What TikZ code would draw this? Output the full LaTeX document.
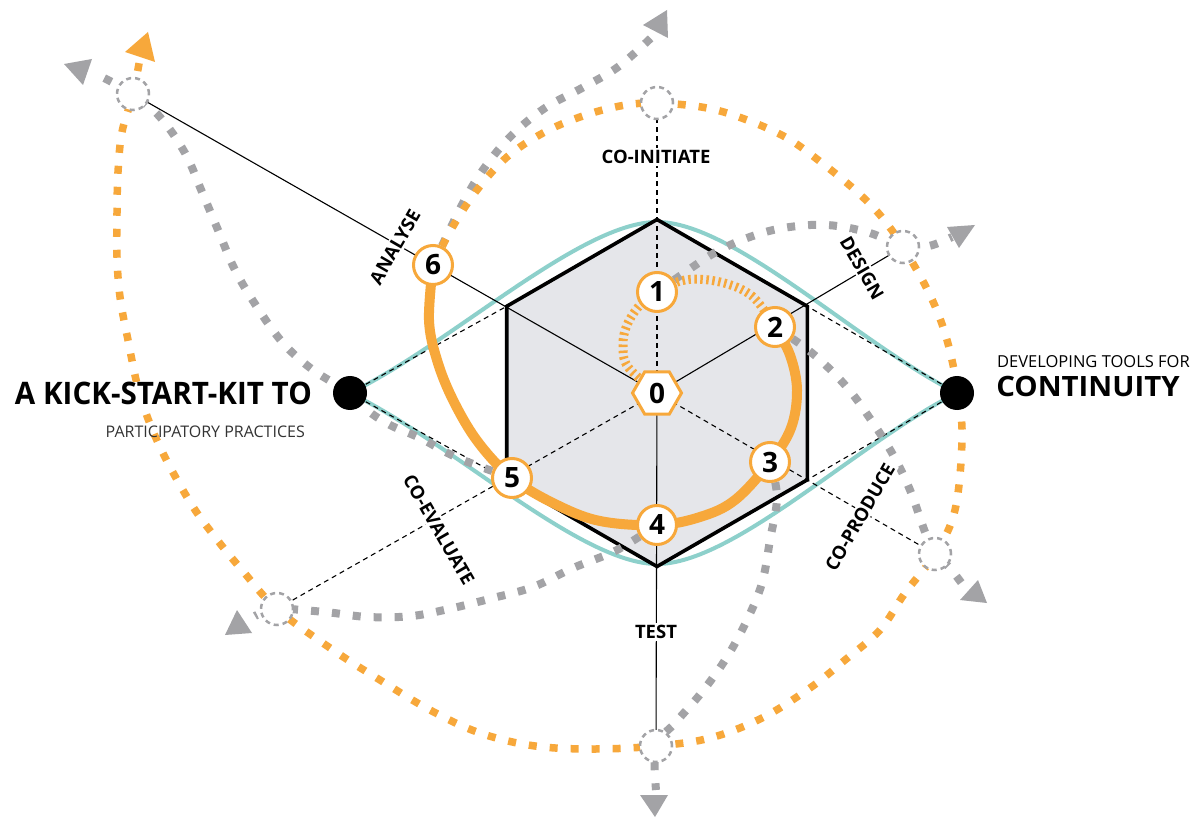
\documentclass[tikz,border=0pt]{standalone}
\usepackage{fontspec}
\setmainfont{Open Sans}
\usetikzlibrary{shapes.geometric}
\definecolor{kitorange}{HTML}{F7A83B}
\definecolor{kitgray}{HTML}{A3A3A6}
\definecolor{kitteal}{HTML}{8DD0CB}
\definecolor{hexfill}{HTML}{E5E6EA}
\begin{document}
\begin{tikzpicture}[x=1pt,y=-1pt,
  spoke/.style={line width=1.1pt,black},
  dspoke/.style={line width=1.1pt,black,dash pattern=on 5pt off 4pt},
  flowgray/.style={line width=8pt,kitgray,dash pattern=on 8pt off 13pt},
  floworange/.style={line width=7.5pt,kitorange,dash pattern=on 8pt off 13pt},
  ticks/.style={line width=9pt,kitorange,dash pattern=on 2.5pt off 3.5pt},
  stepline/.style={line width=10pt,kitorange,line cap=round},
  lens/.style={line width=4pt,kitteal},
  waypoint/.style={circle,minimum size=32pt,inner sep=0pt,fill=white,draw=kitgray,line width=2.5pt,dash pattern=on 5pt off 4pt},
  stepnum/.style={circle,minimum size=39pt,inner sep=0pt,fill=white,draw=kitorange,line width=3pt,font=\bfseries\fontsize{28}{28}\selectfont},
  starthex/.style={regular polygon,regular polygon sides=6,minimum size=49pt,inner sep=0pt,fill=white,draw=kitorange,line width=3pt,font=\bfseries\fontsize{28}{28}\selectfont},
  enddot/.style={circle,minimum size=34pt,inner sep=0pt,fill=black},
  phase/.style={fill=white,inner sep=2pt,font=\bfseries\fontsize{18.5}{18.5}\selectfont},
  headgray/.style={fill=kitgray},
  headorange/.style={fill=kitorange},
]
% canvas
\fill[white] (0,0) rectangle (1192,818);
\useasboundingbox (0,0) rectangle (1192,818);

% key points
\coordinate (n0) at (657,393);
\coordinate (n1) at (657,292);
\coordinate (n2) at (775,327);
\coordinate (n3) at (770,462);
\coordinate (n4) at (657,525);
\coordinate (n5) at (512,478);
\coordinate (n6) at (433,265);
\coordinate (c1) at (657,103);
\coordinate (c2) at (903,247);
\coordinate (c3) at (935,554);
\coordinate (c4) at (656,746);
\coordinate (c5) at (277,609);
\coordinate (c6) at (133,94);
\coordinate (L) at (350,393);
\coordinate (R) at (957,393);
\coordinate (hv1) at (657,219.5);
\coordinate (hv2) at (807.3,306.3);
\coordinate (hv3) at (807.3,479.8);
\coordinate (hv4) at (657,566.5);
\coordinate (hv5) at (506.7,479.8);
\coordinate (hv6) at (506.7,306.3);

% lens between the two end points
\draw[lens] (L) .. controls (450,345) and (580,222) .. (657,222)
  .. controls (734,222) and (860,345) .. (R);
\draw[lens] (L) .. controls (450,441) and (580,564) .. (657,564)
  .. controls (734,564) and (860,441) .. (R);

% hexagon body
\fill[hexfill] (hv1) -- (hv2) -- (hv3) -- (hv4) -- (hv5) -- (hv6) -- cycle;

% dashed guides from the end points to the hexagon
\draw[dspoke] (L) -- (hv6);
\draw[dspoke] (L) -- (hv5);
\draw[dspoke] (R) -- (hv2);
\draw[dspoke] (R) -- (hv3);

% spokes
\draw[dspoke] (n0) -- (c1);
\draw[spoke] (n0) -- (c2);
\draw[dspoke] (n0) -- (c3);
\draw[spoke] (n0) -- (c4);
\draw[dspoke] (n0) -- (c5);
\draw[spoke] (n0) -- (c6);

% hexagon outline
\draw[line width=3.6pt,line join=miter] (hv1) -- (hv2) -- (hv3) -- (hv4) -- (hv5) -- (hv6) -- cycle;

% grey outward flows
\draw[flowgray] plot[smooth,tension=0.6] coordinates {(n6) (463,203) (485,167) (512,135) (545,108) (582,88) (618,67) (652,37)};
\draw[flowgray] plot[smooth,tension=0.6] coordinates {(n1) (700,262) (720,250) (747,238) (783,228) (827,225) (870,233) (c2) (929,246) (952,237)};
\draw[flowgray] plot[smooth,tension=0.6] coordinates {(n2) (812,353) (845,385) (869,417) (892,453) (910,490) (925,532) (c3) (949,567) (966,589)};
\draw[flowgray] plot[smooth,tension=0.6] coordinates {(n3) (777,497) (770,540) (762,583) (747,620) (727,657) (702,692) (675,723) (c4) (656,790)};
\draw[flowgray] plot[smooth,tension=0.6] coordinates {(n4) (617,550) (573,568) (533,587) (493,598) (453,608) (412,616) (368,617) (325,612) (c5) (255,616)};
\draw[flowgray] plot[smooth,tension=0.6] coordinates {(n5) (458,458) (420,438) (390,425) (367,410) (L) (313,370) (283,343) (257,307) (235,270) (218,230) (202,192) (185,153) (160,117) (c6) (98,75)};
\fill[headgray] (643,25) -- (667,10) -- (668,38) -- cycle;
\fill[headgray] (947,227) -- (975,225) -- (959,248) -- cycle;
\fill[headgray] (960,600) -- (987,603) -- (978,580) -- cycle;
\fill[headgray] (640,795) -- (668,795) -- (655,817) -- cycle;
\fill[headgray] (225,635) -- (252,633) -- (237,610) -- cycle;
\fill[headgray] (64,64) -- (92,59) -- (83,85) -- cycle;

% orange outer spiral
\draw[floworange] plot[smooth,tension=0.6] coordinates {(n6) (452,228) (477,190) (507,157) (543,133) (580,117) (620,106) (c1) (707,108) (747,120) (787,138) (822,163) (855,190) (880,215) (c2) (930,295) (947,340) (958,393) (962,440) (955,510) (c3) (905,593) (880,630) (845,660) (810,688) (762,718) (710,738) (c4) (595,749) (535,746) (480,733) (430,710) (380,680) (333,650) (c5) (242,570) (215,537) (190,502) (160,447) (140,395) (128,340) (120,297) (117,257) (117,213) (118,172) (122,132) (c6) (140,58)};
\fill[headorange] (148,32) -- (125,52) -- (155,62) -- cycle;

% inner start-up ticks and the main step arc
\draw[ticks] plot[smooth,tension=0.6] coordinates {(n0) (628,367) (623,345) (627,325) (640,305) (n1) (685,280) (720,282) (752,296) (n2)};
\draw[stepline] plot[smooth,tension=0.6] coordinates {(n2) (790,355) (797,390) (791,428) (n3) (735,500) (700,517) (n4) (600,521) (555,504) (n5) (478,442) (453,400) (437,360) (429,320) (n6)};

% waypoints and end points
\node[waypoint] (w1) at (c1) {};
\node[waypoint] (w2) at (c2) {};
\node[waypoint] (w3) at (c3) {};
\node[waypoint] (w4) at (c4) {};
\node[waypoint] (w5) at (c5) {};
\node[waypoint] (w6) at (c6) {};
\node[enddot] (dotL) at (L) {};
\node[enddot] (dotR) at (R) {};

% step markers
\node[starthex] (s0) at (n0) {0};
\node[stepnum] (s1) at (n1) {1};
\node[stepnum] (s2) at (n2) {2};
\node[stepnum] (s3) at (n3) {3};
\node[stepnum] (s4) at (n4) {4};
\node[stepnum] (s5) at (n5) {5};
\node[stepnum] (s6) at (n6) {6};

% phase labels
\node[phase] (pInit) at (656,157) {CO-INITIATE};
\node[phase,rotate=-60] (pDesign) at (862,268) {DESIGN};
\node[phase,rotate=60] (pProduce) at (860,517) {CO-PRODUCE};
\node[phase] (pTest) at (656,632) {TEST};
\node[phase,rotate=-60] (pEval) at (439,530) {CO-EVALUATE};
\node[phase,rotate=60] (pAnalyse) at (395,247) {ANALYSE};

% titles
\node[anchor=base east,fill=white,inner sep=1pt,xscale=0.955,font=\bfseries\fontsize{31}{31}\selectfont] (tLeft) at (313,405) {A KICK-START-KIT TO};
\node[anchor=base east,inner sep=1pt,text=black!80,font=\fontsize{16}{16}\selectfont] (tLeftSub) at (306,437) {PARTICIPATORY PRACTICES};
\node[anchor=base west,inner sep=1pt,font=\fontsize{16.5}{16.5}\selectfont] (tRightSub) at (996,368) {DEVELOPING TOOLS FOR};
\node[anchor=base west,inner sep=1pt,xscale=1.05,font=\bfseries\fontsize{28}{28}\selectfont] (tRight) at (995,396) {CONTINUITY};
\end{tikzpicture}
\end{document}
